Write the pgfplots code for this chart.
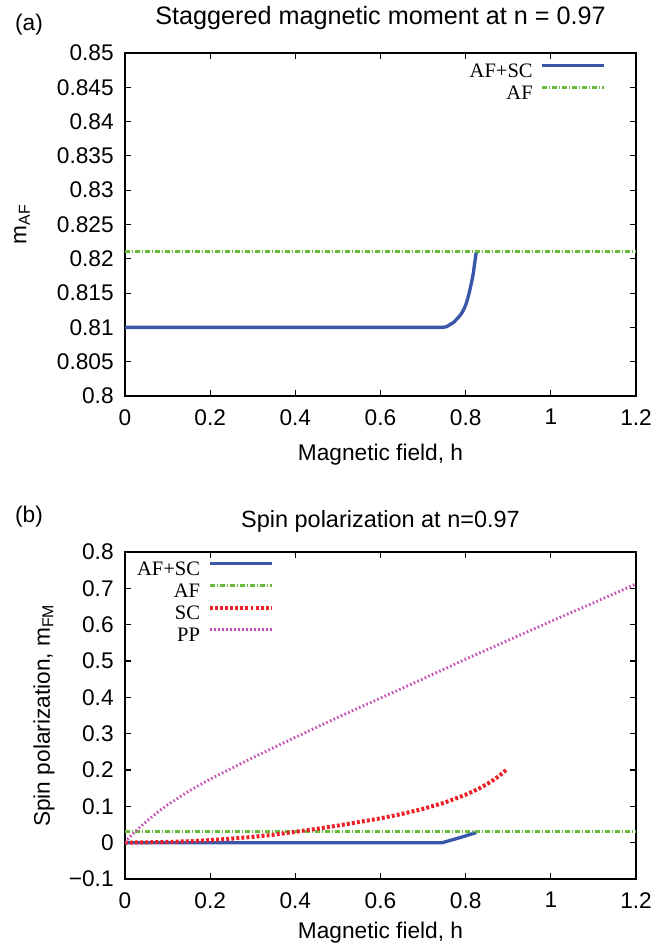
\documentclass[border=0pt]{standalone}
\usepackage{fontspec}
\setmainfont{Liberation Sans}
\newfontfamily\legfont{Liberation Serif}
\usepackage{pgfplots}
\pgfplotsset{compat=1.18}
\definecolor{cBlue}{RGB}{58,86,168}
\definecolor{cGreen}{RGB}{104,186,60}
\definecolor{cRed}{RGB}{236,32,38}
\definecolor{cMag}{RGB}{200,80,180}
\pgfplotsset{
  myax/.style={
    scale only axis, width=383.25pt,
    xmin=0, xmax=1.2,
    xtick={0,0.2,0.4,0.6,0.8,1,1.2},
    xticklabels={0,0.2,0.4,0.6,0.8,1,1.2},
    font=\fontsize{17}{20.4}\selectfont,
    axis line style={line width=0.9pt},
    major tick style={line width=0.8pt, black},
    major tick length=4.5pt,
    minor tick num=0,
    xticklabel style={yshift=-6.5pt},
    yticklabel style={xshift=-5pt},
    legend style={draw=none, fill=none, font=\legfont\fontsize{15.4}{18}\selectfont,
      anchor=north east, inner sep=0pt, outer sep=0pt, row sep=2.5pt,
      nodes={inner sep=0pt, text height=11pt, text depth=3pt}, column sep=6pt},
    legend plot pos=right, legend cell align=right,
    legend image code/.code={\draw[##1] (0pt,5pt) -- (46.5pt,5pt);},
  },
  sAFSC/.style={cBlue, line width=2.5pt},
  sAF/.style={cGreen, line width=2.2pt, dash pattern=on 3.4pt off 1.5pt on 1.1pt off 1.5pt},
  sSC/.style={cRed, line width=3pt, dash pattern=on 2.2pt off 1.6pt},
  sPP/.style={cMag, line width=2.2pt, dash pattern=on 1.2pt off 1.8pt},
}
\begin{document}
\begin{tikzpicture}
\useasboundingbox (0,0) rectangle (489.75pt,708.75pt);
\node[font=\fontsize{17}{20.4}\selectfont] at (21.75pt,690pt) {(a)};
\node[font=\fontsize{17}{20.4}\selectfont] at (21.75pt,321pt) {(b)};
\begin{axis}[myax,
  at={(93.75pt,411.75pt)}, anchor=south west, height=257.25pt,
  ymin=0.8, ymax=0.85,
  ytick={0.8,0.805,0.81,0.815,0.82,0.825,0.83,0.835,0.84,0.845,0.85},
  yticklabels={0.8,0.805,0.81,0.815,0.82,0.825,0.83,0.835,0.84,0.845,0.85},
  title={Staggered magnetic moment at n = 0.97},
  title style={at={(0.5,1.102)}, anchor=center, yshift=-6pt, font=\fontsize{18.9}{22}\selectfont},
  xlabel={Magnetic field, h},
  xlabel style={at={(axis description cs:0.5,-0.172)}, anchor=center},
  ylabel={m\textsubscript{AF}},
  ylabel style={at={(axis description cs:-0.2016,0.5)}, anchor=center},
  legend style={at={(0.9413,0.971)}},
]
\addplot[sAFSC] coordinates {(0,0.81) (0.745,0.81) (0.755,0.8101) (0.763,0.8104) (0.771,0.8107) (0.779,0.8112) (0.785,0.8116) (0.791,0.8121) (0.797,0.8128) (0.802,0.8136) (0.806,0.8145) (0.810,0.8155) (0.814,0.8166) (0.818,0.8179) (0.821,0.8193) (0.8235,0.8204) (0.825,0.821)};
\addlegendentry{AF+SC}
\addplot[sAF] coordinates {(0,0.821) (1.2,0.821)};
\addlegendentry{AF}
\end{axis}
\begin{axis}[myax,
  at={(93.75pt,49.5pt)}, anchor=south west, height=245.25pt,
  ymin=-0.1, ymax=0.8,
  ytick={-0.1,0,0.1,0.2,0.3,0.4,0.5,0.6,0.7,0.8},
  yticklabels={−0.1,0,0.1,0.2,0.3,0.4,0.5,0.6,0.7,0.8},
  title={Spin polarization at n=0.97},
  title style={at={(0.5,1.095)}, anchor=center, yshift=-6pt, font=\fontsize{17.6}{21}\selectfont},
  xlabel={Magnetic field, h},
  xlabel style={at={(axis description cs:0.5,-0.163)}, anchor=center},
  ylabel={Spin polarization, m\textsubscript{FM}},
  ylabel style={at={(axis description cs:-0.1585,0.5)}, anchor=center},
  legend style={at={(0.2916,0.9725)}},
]
\addplot[sAFSC] coordinates {(0,0) (0.745,0) (0.76,0.005) (0.79,0.015) (0.825,0.028)};
\addlegendentry{AF+SC}
\addplot[sAF] coordinates {(0,0.03) (1.2,0.03)};
\addlegendentry{AF}
\addplot[sSC] coordinates {(0,0) (0.05,0.001) (0.1,0.002) (0.15,0.004) (0.2,0.007) (0.25,0.011) (0.3,0.016) (0.35,0.022) (0.4,0.03) (0.45,0.038) (0.5,0.047) (0.55,0.057) (0.6,0.067) (0.65,0.079) (0.7,0.093) (0.75,0.11) (0.8,0.132) (0.83,0.148) (0.86,0.168) (0.88,0.185) (0.895,0.2)};
\addlegendentry{SC}
\addplot[sPP] coordinates {(0,0) (0.005,0.008) (0.01,0.014) (0.02,0.026) (0.04,0.048) (0.06,0.068) (0.08,0.087) (0.1,0.104) (0.15,0.142) (0.2,0.175) (0.3,0.234) (0.4,0.29) (0.5,0.345) (0.6,0.398) (0.7,0.451) (0.8,0.505) (0.9,0.557) (1.0,0.609) (1.1,0.66) (1.2,0.712)};
\addlegendentry{PP}
\end{axis}
\end{tikzpicture}
\end{document}
